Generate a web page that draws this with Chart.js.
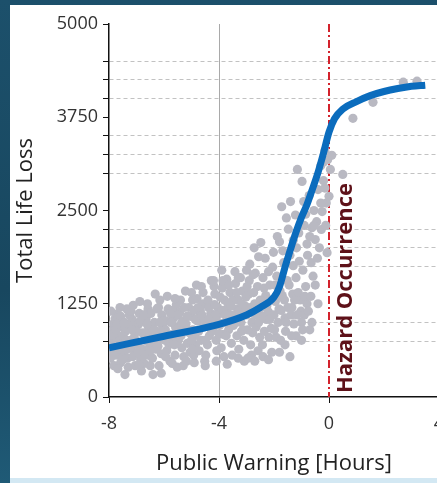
<!DOCTYPE html>
<html lang="en">
<head>
    <meta charset="UTF-8">
    <title>Total Life Loss vs Public Warning</title>
    <script src="https://cdn.jsdelivr.net/npm/chart.js"></script>
    <style>
        html, body {
            margin: 0;
            padding: 0;
            width: 437px;
            height: 483px;
            overflow: hidden;
            background: linear-gradient(180deg, #1c506b 0%, #18475f 60%, #1f5a76 100%);
        }
        #panel {
            position: absolute;
            left: 10px;
            top: 5px;
            width: 440px;
            height: 473px;
            background: #ffffff;
            border-bottom: 5px solid #d3e8f3;
        }
        canvas {
            position: absolute;
            left: 10px;
            top: 5px;
        }
    </style>
</head>
<body>
    <div id="panel"></div>
    <canvas id="grafica" width="450" height="475"></canvas>

    <script>
        // fitted curve (hours, life loss)
        const curveHours = [-8, -6, -4, -3, -2.5, -2, -1.8, -1.6, -1.4, -1.2, -1, -0.8, -0.6, -0.4, -0.2, 0, 0.2, 0.5, 1, 1.5, 2, 2.5, 3, 3.5];
        const curveLoss  = [660, 815, 975, 1100, 1200, 1340, 1480, 1740, 1980, 2210, 2410, 2580, 2790, 3010, 3270, 3550, 3730, 3860, 3960, 4040, 4095, 4135, 4165, 4180];

        // observed events [hours, life loss]
        const scatterPoints = [
            [-7.95,520],[-7.9,760],[-7.85,980],[-7.8,640],[-7.92,880],[-7.82,420],[-7.97,700],[-7.78,1050],
            [-7.7,560],[-7.65,820],[-7.6,940],[-7.55,690],[-7.72,1110],[-7.58,460],[-7.68,380],[-7.52,1000],[-7.62,760],
            [-7.45,600],[-7.4,880],[-7.35,1180],[-7.3,720],[-7.42,300],[-7.28,980],[-7.48,810],[-7.33,520],
            [-7.2,650],[-7.15,1040],[-7.1,880],[-7.05,420],[-7.22,760],[-7.12,1230],[-7.02,580],[-7.18,950],
            [-6.95,700],[-6.9,1120],[-6.85,500],[-6.8,860],[-6.92,980],[-6.78,640],[-6.88,1280],[-6.82,350],
            [-6.7,760],[-6.65,1050],[-6.6,560],[-6.55,920],[-6.72,450],[-6.58,1180],[-6.52,700],[-6.68,860],
            [-6.45,820],[-6.4,300],[-6.35,1000],[-6.3,640],[-6.48,1120],[-6.28,880],[-6.42,520],[-6.32,1380],
            [-6.2,760],[-6.15,1300],[-6.1,580],[-6.05,960],[-6.22,680],[-6.08,1100],[-6.18,420],[-6.02,840],
            [-5.95,900],[-5.9,620],[-5.85,1180],[-5.8,760],[-5.92,1020],[-5.78,480],[-5.88,1350],[-5.82,700],
            [-5.7,840],[-5.65,1060],[-5.6,560],[-5.55,1240],[-5.72,720],[-5.58,940],[-5.52,400],[-5.68,1160],
            [-5.45,880],[-5.4,1300],[-5.35,660],[-5.3,1020],[-5.48,760],[-5.28,540],[-5.42,1140],[-5.32,920],
            [-5.2,980],[-5.15,720],[-5.1,1200],[-5.05,600],[-5.22,1420],[-5.08,860],[-5.18,480],[-5.02,1080],
            [-4.95,900],[-4.9,1160],[-4.85,700],[-4.8,1320],[-4.92,560],[-4.78,1020],[-4.88,820],[-4.82,1500],
            [-4.7,1080],[-4.65,760],[-4.6,1250],[-4.55,940],[-4.72,620],[-4.58,1400],[-4.52,480],[-4.68,1160],
            [-4.45,1000],[-4.4,1300],[-4.35,820],[-4.3,1120],[-4.48,560],[-4.28,1560],[-4.42,700],[-4.32,940],
            [-4.2,1060],[-4.15,1380],[-4.1,760],[-4.05,1200],[-4.22,900],[-4.08,620],[-4.18,1480],[-4.02,1000],
            [-3.95,1120],[-3.9,1700],[-3.85,840],[-3.8,1300],[-3.92,660],[-3.78,1000],[-3.88,1460],[-3.82,540],
            [-3.7,1180],[-3.65,900],[-3.6,1400],[-3.55,720],[-3.72,1580],[-3.58,1050],[-3.52,560],[-3.68,1260],
            [-3.45,1100],[-3.4,1520],[-3.35,820],[-3.3,1300],[-3.48,960],[-3.28,640],[-3.42,1680],[-3.32,1180],
            [-3.2,1000],[-3.15,1420],[-3.1,760],[-3.05,1220],[-3.22,1600],[-3.08,480],[-3.18,880],[-3.02,1340],
            [-2.95,1150],[-2.9,1560],[-2.85,700],[-2.8,1000],[-2.92,1380],[-2.78,860],[-2.88,1780],[-2.82,560],[-2.95,520],
            [-2.7,1250],[-2.65,940],[-2.6,1480],[-2.55,1100],[-2.72,2000],[-2.58,620],[-2.52,800],[-2.68,1660],
            [-2.45,1200],[-2.4,1600],[-2.35,880],[-2.3,1360],[-2.48,2070],[-2.28,1040],[-2.42,700],[-2.32,1860],[-2.4,540],
            [-2.2,1140],[-2.15,1500],[-2.1,920],[-2.05,1740],[-2.22,1300],[-2.08,600],[-2.18,800],[-2.02,1940],
            [-1.95,1280],[-1.9,1620],[-1.85,1000],[-1.8,2080],[-1.92,800],[-1.78,1420],[-1.88,2150],[-1.82,1180],
            [-1.7,1360],[-1.65,1800],[-1.6,1060],[-1.55,2400],[-1.72,2550],[-1.58,880],[-1.52,1560],[-1.68,1960],
            [-1.45,1500],[-1.4,2620],[-1.35,1200],[-1.3,1760],[-1.48,2250],[-1.28,980],[-1.42,1900],[-1.32,1380],[-1.42,540],
            [-1.2,1600],[-1.15,3050],[-1.1,2200],[-1.05,1300],[-1.22,2440],[-1.08,1820],[-1.18,2000],[-1.02,1150],
            [-0.98,2890],[-0.95,1700],[-0.9,2300],[-0.85,1480],[-0.8,2050],[-0.92,2620],[-0.78,1900],[-0.9,1100],[-1.0,760],[-0.8,1250],
            [-0.7,2150],[-0.65,1800],[-0.62,2270],[-0.55,2500],[-0.5,2110],[-0.72,2700],[-0.58,1620],[-0.7,900],
            [-0.45,2350],[-0.4,2780],[-0.35,2000],[-0.3,3100],[-0.25,2486],[-0.28,2245],[-0.42,1860],
            [-0.2,2900],[-0.15,3300],[-0.1,2600],[-0.07,1935],[-0.05,3180],[0,2690],[-0.12,2300],
            [0.1,3240],[0.5,2984],[0.87,3736],[1.6,3950],[2.7,4220],[3.2,4234],
            [-7.98,600],[-7.88,830],[-7.75,900],[-7.66,640],[-7.57,1080],[-7.5,500],[-7.38,760],[-7.26,1100],
            [-7.14,540],[-7.08,800],[-6.98,880],[-6.86,1020],[-6.76,560],[-6.62,980],[-6.5,620],[-6.38,760],
            [-6.26,1180],[-6.12,880],[-6.0,1020],[-5.94,540],[-5.84,820],[-5.74,1000],[-5.62,700],[-5.5,1100],
            [-5.38,820],[-5.26,1200],[-5.14,900],[-5.0,760],[-4.96,1300],[-4.86,1040],[-4.74,880],[-4.62,1100],
            [-4.5,760],[-4.38,1200],[-4.26,880],[-4.12,1100],[-4.0,840],[-3.96,1340],[-3.84,1160],[-3.74,820],
            [-3.62,1100],[-3.5,1300],[-3.38,1000],[-3.26,1160],[-3.12,900],[-3.0,1100],[-2.98,1480],[-2.86,1200],
            [-2.74,1400],[-2.62,1100],[-2.5,1300],[-2.38,1080],[-2.26,1220],[-2.12,1300],[-2.0,1100],[-1.96,1500],
            [-1.86,1350],[-1.74,1160],[-1.62,1300],[-1.5,1200],[-1.38,1100],[-1.25,1300],[-1.12,1400],[-1.0,1000],
            [-0.88,1350],[-0.75,1150],[-0.62,1000],
            [-3.86,1560],[-3.64,1500],[-3.3,1600],[-3.0,1700],[-2.76,1640],[-2.56,1880],[-2.2,1680],
            [-7.3,400],[-6.9,430],[-6.5,420],[-6.1,320],[-5.7,450],[-5.3,420],[-4.9,460],[-4.5,420],
            [-4.1,480],[-3.7,440],[-3.3,520],[-2.7,480],[-2.2,500],[-1.8,600],[-1.6,700],[-1.2,820],
            [-7.6,1200],[-7.2,1150],[-6.6,1250],[-6.2,1200],[-5.6,1320],[-5.0,1400],[-4.64,1480],[-4.2,1560],
            [-0.3,2600],[-0.15,2800],[-0.55,2300],[-0.85,2450],[-1.3,2100],[-0.2,3150],[0.05,3050],
            [-7.93,1150],[-7.83,560],[-7.7,980],[-7.45,1000],[-7.36,640],[-7.16,900],[-6.96,600],[-6.74,1100],
            [-6.56,800],[-6.36,900],[-6.16,1000],[-5.96,760],[-5.76,1120],[-5.56,820],[-5.36,1000],[-5.16,1080],
            [-4.96,640],[-4.76,1200],[-4.56,1050],[-4.36,1040],[-4.16,1240],[-3.98,960],[-3.76,1100],[-3.56,1220],
            [-3.36,1400],[-3.16,1240],[-2.96,900],[-2.76,1120],[-2.56,1000],[-2.36,1460],[-2.16,1040],[-1.98,900],
            [-1.76,760],[-1.56,1000],[-1.36,820],[-1.16,1100],[-0.96,900],[-0.66,1350],[-0.5,1500],[-0.4,1250]
        ];

        const yTickValues = [0, 750, 1000, 1250, 1750, 2000, 2250, 2500, 3000, 3250, 3500, 3750, 4000, 4250, 4500, 5000];
        const yLabelValues = [0, 1250, 2500, 3750, 5000];
        const xTickValues = [-8, -4, 0, 4];
        const hazardHour = 0;
        const hazardLabel = 'Hazard Occurrence';

        const fuente = "'Open Sans', 'Segoe UI', sans-serif";

        // red dash-dot line at hazard occurrence + label
        const hazardPlugin = {
            id: 'hazard',
            beforeDatasetsDraw(chart) {
                const {ctx, chartArea, scales} = chart;
                const x = scales.x.getPixelForValue(hazardHour);
                ctx.save();
                ctx.strokeStyle = '#d3222c';
                ctx.lineWidth = 2;
                ctx.setLineDash([8, 3, 2, 3]);
                ctx.beginPath();
                ctx.moveTo(x, chartArea.top);
                ctx.lineTo(x, chartArea.bottom);
                ctx.stroke();
                ctx.restore();
            },
            afterDatasetsDraw(chart) {
                const {ctx, chartArea, scales} = chart;
                const x = scales.x.getPixelForValue(hazardHour);
                ctx.save();
                ctx.translate(x + 17, chartArea.bottom - 4);
                ctx.rotate(-Math.PI / 2);
                ctx.fillStyle = '#5e1119';
                ctx.font = "bold 22px " + fuente;
                ctx.textAlign = 'left';
                ctx.textBaseline = 'middle';
                ctx.fillText(hazardLabel, 0, 0);
                ctx.restore();
            }
        };

        const ctx = document.getElementById('grafica').getContext('2d');

        new Chart(ctx, {
            type: 'scatter',
            data: {
                datasets: [{
                    type: 'line',
                    label: 'Curve',
                    data: curveHours.map((h, i) => ({x: h, y: curveLoss[i]})),
                    borderColor: '#0b6cbd',
                    borderWidth: 7,
                    pointRadius: 0,
                    fill: false,
                    cubicInterpolationMode: 'monotone',
                    borderCapStyle: 'butt'
                }, {
                    label: 'Events',
                    data: scatterPoints.map(p => ({x: p[0], y: p[1]})),
                    backgroundColor: '#b9b9c2',
                    borderWidth: 0,
                    pointRadius: 4.6
                }]
            },
            options: {
                responsive: false,
                animation: false,
                devicePixelRatio: 1,
                layout: {padding: {left: 0, top: 19, right: 21, bottom: 0}},
                plugins: {
                    legend: {display: false},
                    tooltip: {enabled: false}
                },
                scales: {
                    x: {
                        type: 'linear',
                        min: -8,
                        max: 4,
                        afterBuildTicks: (scale) => { scale.ticks = xTickValues.map(v => ({value: v})); },
                        afterFit: (scale) => { scale.height = 83; },
                        ticks: {
                            autoSkip: false,
                            maxRotation: 0,
                            padding: 10,
                            color: '#333',
                            font: {family: fuente, size: 18}
                        },
                        grid: {
                            color: (c) => c.tick && c.tick.value === -4 ? '#a9a9a9' : 'rgba(0,0,0,0)',
                            tickColor: '#111',
                            tickLength: 6,
                            lineWidth: 1
                        },
                        border: {color: '#111', width: 1.5},
                        title: {
                            display: true,
                            text: 'Public Warning [Hours]',
                            color: '#222',
                            font: {family: fuente, size: 22},
                            padding: {top: 0, bottom: 3}
                        }
                    },
                    y: {
                        min: 0,
                        max: 5000,
                        afterBuildTicks: (scale) => { scale.ticks = yTickValues.map(v => ({value: v})); },
                        afterFit: (scale) => { scale.width = 99; },
                        ticks: {
                            autoSkip: false,
                            padding: 5,
                            color: '#333',
                            font: {family: fuente, size: 18},
                            callback: (v) => yLabelValues.includes(v) ? String(v) : ''
                        },
                        grid: {
                            color: (c) => c.tick && !yLabelValues.includes(c.tick.value) ? '#c2c2c2' : 'rgba(0,0,0,0)',
                            tickColor: '#111',
                            tickLength: 6,
                            lineWidth: 1
                        },
                        border: {color: '#111', width: 1.5, dash: [4, 3]},
                        title: {
                            display: true,
                            text: 'Total Life Loss',
                            color: '#222',
                            font: {family: fuente, size: 22},
                            padding: {top: 3, bottom: 0}
                        }
                    }
                }
            },
            plugins: [hazardPlugin]
        });
    </script>
</body>
</html>
